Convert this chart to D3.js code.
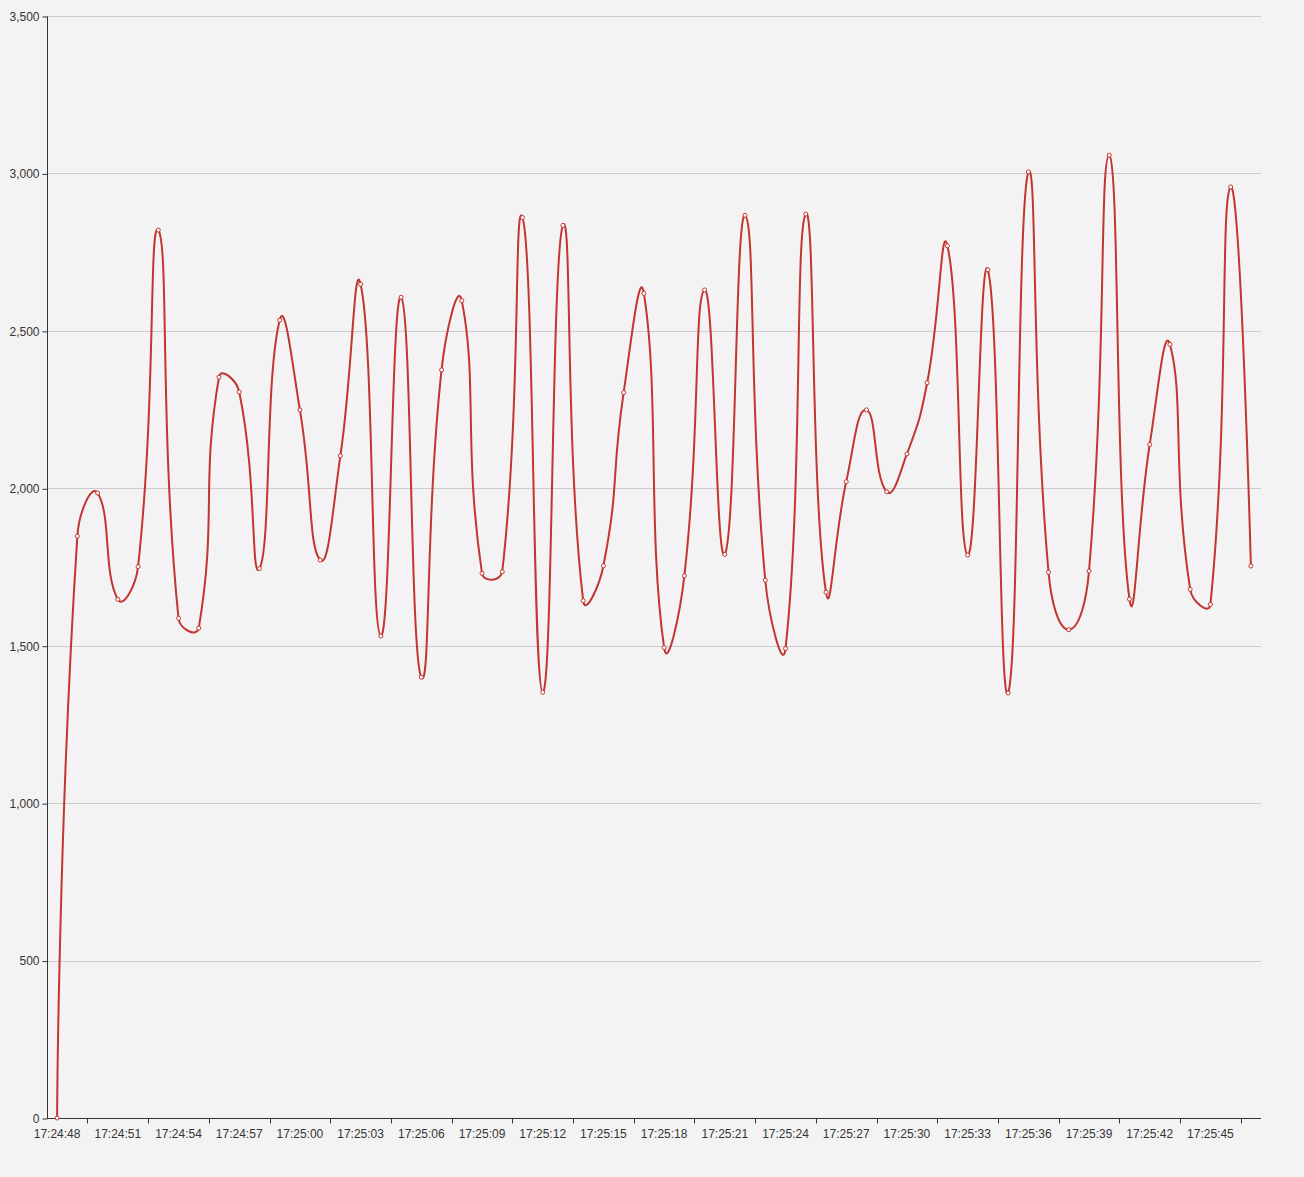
<!DOCTYPE html>
<html>
<head>
<meta charset="utf-8">
<script src="https://cdn.jsdelivr.net/npm/d3@7"></script>
<style>
    html, body { margin: 0; padding: 0; background: #f3f3f3; }
    svg { display: block; }
    text { font-family: "Liberation Sans", Arial, Helvetica, sans-serif; }
</style>
</head>
<body>
<div id="chart"></div>
<script>
// one sample per second, 17:24:48 .. 17:25:47
const times = [
    '17:24:48', '17:24:49', '17:24:50', '17:24:51', '17:24:52', '17:24:53', '17:24:54', '17:24:55', '17:24:56', '17:24:57',
    '17:24:58', '17:24:59', '17:25:00', '17:25:01', '17:25:02', '17:25:03', '17:25:04', '17:25:05', '17:25:06', '17:25:07',
    '17:25:08', '17:25:09', '17:25:10', '17:25:11', '17:25:12', '17:25:13', '17:25:14', '17:25:15', '17:25:16', '17:25:17',
    '17:25:18', '17:25:19', '17:25:20', '17:25:21', '17:25:22', '17:25:23', '17:25:24', '17:25:25', '17:25:26', '17:25:27',
    '17:25:28', '17:25:29', '17:25:30', '17:25:31', '17:25:32', '17:25:33', '17:25:34', '17:25:35', '17:25:36', '17:25:37',
    '17:25:38', '17:25:39', '17:25:40', '17:25:41', '17:25:42', '17:25:43', '17:25:44', '17:25:45', '17:25:46', '17:25:47'
];

const values = [
    0, 1848, 1985, 1647, 1751, 2820, 1587, 1556, 2353, 2306,
    1745, 2534, 2249, 1772, 2103, 2648, 1531, 2607, 1400, 2376,
    2596, 1730, 1735, 2860, 1352, 2835, 1643, 1754, 2304, 2619,
    1494, 1722, 2630, 1790, 2867, 1708, 1491, 2871, 1670, 2021,
    2249, 1989, 2109, 2335, 2770, 1788, 2694, 1350, 3005, 1733,
    1551, 1737, 3058, 1648, 2139, 2457, 1679, 1631, 2957, 1753
];

const yTicks = [0, 500, 1000, 1500, 2000, 2500, 3000, 3500];

const W = 1304, H = 1177;
const margin = { top: 16, right: 43, bottom: 59, left: 47 };

// smooth curve: control points along (next - prev), split by segment lengths,
// clamped to the bounding box of the points
function curveSmooth(context) {
    let pts = [];
    const smooth = 0.5;
    return {
        lineStart() { pts = []; },
        lineEnd() {
            if (!pts.length) return;
            const minX = d3.min(pts, p => p[0]), maxX = d3.max(pts, p => p[0]);
            const minY = d3.min(pts, p => p[1]), maxY = d3.max(pts, p => p[1]);
            const clamp = p => [Math.max(minX, Math.min(maxX, p[0])), Math.max(minY, Math.min(maxY, p[1]))];
            context.moveTo(pts[0][0], pts[0][1]);
            let cp0 = pts[0].slice();
            for (let i = 1; i < pts.length; i++) {
                const p = pts[i], prev = pts[i - 1], next = pts[i + 1];
                let cp1, ratio = 0.5, v = [0, 0];
                if (!next) {
                    cp1 = p.slice();
                } else {
                    v = [next[0] - prev[0], next[1] - prev[1]];
                    const lp = Math.hypot(p[0] - prev[0], p[1] - prev[1]);
                    const ln = Math.hypot(next[0] - p[0], next[1] - p[1]);
                    ratio = ln / (ln + lp);
                    cp1 = [p[0] - v[0] * smooth * (1 - ratio), p[1] - v[1] * smooth * (1 - ratio)];
                }
                const a = clamp(cp0), b = clamp(cp1);
                context.bezierCurveTo(a[0], a[1], b[0], b[1], p[0], p[1]);
                cp0 = [p[0] + v[0] * smooth * ratio, p[1] + v[1] * smooth * ratio];
            }
        },
        point(x, y) { pts.push([x, y]); },
        areaStart() {},
        areaEnd() {}
    };
}

const svg = d3.select('#chart')
    .append('svg')
    .attr('width', W)
    .attr('height', H);

svg.append('rect')
    .attr('width', W)
    .attr('height', H)
    .attr('fill', '#f3f3f3');

const x = d3.scaleBand()
    .domain(d3.range(times.length))
    .range([margin.left, W - margin.right])
    .paddingInner(0)
    .paddingOuter(0);

const y = d3.scaleLinear()
    .domain([0, 3500])
    .range([H - margin.bottom, margin.top]);

const cx = i => x(i) + x.bandwidth() / 2;

// grid lines
svg.append('g')
    .attr('class', 'grid')
    .selectAll('line')
    .data(yTicks.filter(d => d > 0))
    .enter()
    .append('line')
    .attr('x1', margin.left)
    .attr('x2', W - margin.right)
    .attr('y1', d => Math.round(y(d)) + 0.5)
    .attr('y2', d => Math.round(y(d)) + 0.5)
    .attr('stroke', '#cccccc')
    .attr('stroke-width', 1);

// y axis
const yAxis = svg.append('g')
    .attr('transform', `translate(${margin.left + 0.5},0.5)`)
    .call(d3.axisLeft(y)
        .tickValues(yTicks)
        .tickSize(5)
        .tickPadding(3)
        .tickFormat(d3.format(',')));
yAxis.select('.domain').attr('stroke', '#333').attr('d', `M0,${y(3500)}V${y(0)}`);
yAxis.selectAll('.tick line').attr('stroke', '#333');
yAxis.selectAll('.tick text')
    .attr('fill', '#333')
    .style('font-size', '12px');

// x axis: labels every 3 seconds at the point, tick marks between
const xAxis = svg.append('g')
    .attr('transform', `translate(0,${Math.round(y(0)) + 0.5})`);

xAxis.append('line')
    .attr('x1', margin.left)
    .attr('x2', W - margin.right)
    .attr('stroke', '#333');

const tickIdx = d3.range(2, times.length, 3);
xAxis.selectAll('.xtick')
    .data(tickIdx)
    .enter()
    .append('line')
    .attr('class', 'xtick')
    .attr('x1', d => Math.round(x(d)) + 0.5)
    .attr('x2', d => Math.round(x(d)) + 0.5)
    .attr('y1', 0)
    .attr('y2', 5)
    .attr('stroke', '#333');

xAxis.selectAll('.xlabel')
    .data(d3.range(0, times.length, 3))
    .enter()
    .append('text')
    .attr('class', 'xlabel')
    .attr('x', d => cx(d))
    .attr('y', 19)
    .attr('text-anchor', 'middle')
    .attr('fill', '#333')
    .style('font-size', '12px')
    .text(d => times[d]);

// the series
const line = d3.line()
    .x((d, i) => cx(i))
    .y(d => y(d))
    .curve(curveSmooth);

svg.append('path')
    .datum(values)
    .attr('d', line)
    .attr('fill', 'none')
    .attr('stroke', '#c23531')
    .attr('stroke-width', 2)
    .attr('stroke-linejoin', 'round');

svg.selectAll('.point')
    .data(values)
    .enter()
    .append('circle')
    .attr('class', 'point')
    .attr('cx', (d, i) => cx(i))
    .attr('cy', d => y(d))
    .attr('r', 2)
    .attr('fill', '#ffffff')
    .attr('stroke', '#c23531')
    .attr('stroke-width', 1);
</script>
</body>
</html>
